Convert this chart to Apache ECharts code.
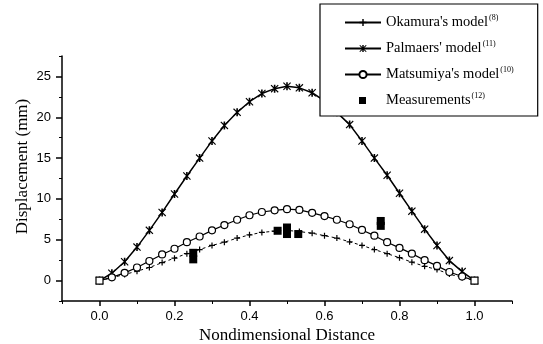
<!DOCTYPE html>
<html>
<head>
<meta charset="utf-8">
<script src="https://cdn.jsdelivr.net/npm/echarts@6/dist/echarts.min.js"></script>
<style>
  html, body { margin: 0; padding: 0; background: #fff; }
  #chart { width: 543px; height: 344px; }
</style>
</head>
<body>
<div id="chart"></div>
<script>
// nondimensional distance of model points
const xs = [0, 0.033, 0.067, 0.1, 0.133, 0.167, 0.2, 0.233, 0.267, 0.3, 0.333,
  0.367, 0.4, 0.433, 0.467, 0.5, 0.533, 0.567, 0.6, 0.633, 0.667, 0.7, 0.733,
  0.767, 0.8, 0.833, 0.867, 0.9, 0.933, 0.967, 1.0];

const okamura = [0, 0.35, 0.75, 1.15, 1.6, 2.2, 2.75, 3.3, 3.8, 4.3, 4.7, 5.2,
  5.6, 5.9, 6.05, 6.15, 6.0, 5.8, 5.5, 5.2, 4.75, 4.3, 3.8, 3.3, 2.8, 2.25,
  1.75, 1.35, 0.8, 0.35, 0];

const palmaers = [0, 0.9, 2.3, 4.1, 6.15, 8.35, 10.6, 12.8, 15.0, 17.1, 19.0,
  20.6, 21.9, 22.9, 23.5, 23.8, 23.6, 23.0, 22.0, 20.6, 19.1, 17.1, 15.0, 12.9,
  10.7, 8.5, 6.3, 4.3, 2.45, 1.1, 0];

const matsumiya = [0, 0.4, 0.95, 1.6, 2.4, 3.2, 3.9, 4.7, 5.4, 6.15, 6.8, 7.45,
  8.0, 8.4, 8.6, 8.75, 8.65, 8.3, 7.9, 7.45, 6.9, 6.2, 5.5, 4.7, 4.0, 3.3, 2.5,
  1.8, 1.05, 0.5, 0];

const measX = [0.25, 0.25, 0.475, 0.5, 0.5, 0.53, 0.75, 0.75];
const measY = [2.6, 3.4, 6.1, 5.7, 6.5, 5.7, 6.7, 7.3];

const names = ["Okamura's model", "Palmaers' model", "Matsumiya's model", 'Measurements'];
const refs = ['(8)', '(11)', '(10)', '(12)'];

const xTicks = [0, 0.2, 0.4, 0.6, 0.8, 1.0];
const xMinor = [-0.1, 0.1, 0.3, 0.5, 0.7, 0.9, 1.1];
const yTicks = [0, 5, 10, 15, 20, 25];
const yMinor = [-2.5, 2.5, 7.5, 12.5, 17.5, 22.5, 27.5];

const zip = (a, b) => a.map((v, i) => [v, b[i]]);

const serif = 'Liberation Serif';
const sans = 'Liberation Sans';

const plusPath = 'path://M4,0H6V4H10V6H6V10H4V6H0V4H4Z';
const starPath = 'path://M0,1L1,0L5,4L9,0L10,1L6,5L10,9L9,10L5,6L1,10L0,9L4,5Z M4,0H6V10H4Z';
// small square centred in a legend-sized box
const legendSquare = 'path://M0,0L0,0M36,9L36,9M14,1H21V8H14Z';

const matsData = zip(xs, matsumiya).map((p, i) =>
  (i === 0 || i === xs.length - 1) ? { value: p, symbol: 'rect' } : p);

const chart = echarts.init(document.getElementById('chart'));

const baseX = {
  type: 'value', min: -0.1, max: 1.1, position: 'bottom',
  splitLine: { show: false }
};
const baseY = {
  type: 'value', min: -2.5, max: 27.5, position: 'left',
  splitLine: { show: false }
};

chart.setOption({
  animation: false,
  backgroundColor: '#fff',
  grid: { left: 62, right: 31, top: 56, bottom: 43, outerBoundsMode: 'none', containLabel: false },
  xAxis: [
    Object.assign({}, baseX, {
      name: 'Nondimensional Distance',
      nameLocation: 'middle',
      nameGap: 26,
      nameMoveOverlap: false,
      nameTextStyle: { fontFamily: serif, fontSize: 17, color: '#000' },
      axisLine: { onZero: false, lineStyle: { color: '#000', width: 1.5 } },
      axisTick: { customValues: xTicks, length: 5, lineStyle: { color: '#000', width: 1.5 } },
      axisLabel: {
        customValues: xTicks, margin: 9, color: '#000', fontFamily: sans, fontSize: 13,
        formatter: v => v.toFixed(1)
      }
    }),
    Object.assign({}, baseX, {
      axisLine: { show: false, onZero: false },
      axisTick: { customValues: xMinor, length: 3, lineStyle: { color: '#000' } },
      axisLabel: { show: false }
    })
  ],
  yAxis: [
    Object.assign({}, baseY, {
      name: 'Displacement (mm)',
      nameLocation: 'middle',
      nameGap: 31,
      nameMoveOverlap: false,
      nameTextStyle: { fontFamily: serif, fontSize: 17, color: '#000', padding: [0, 0, 0, 24] },
      axisLine: { show: true, onZero: false, lineStyle: { color: '#000', width: 1.5 } },
      axisTick: { show: true, customValues: yTicks, length: 6, lineStyle: { color: '#000', width: 1.5 } },
      axisLabel: { customValues: yTicks, margin: 11, color: '#000', fontFamily: sans, fontSize: 13 }
    }),
    Object.assign({}, baseY, {
      axisLine: { show: false, onZero: false },
      axisTick: { show: true, customValues: yMinor, length: 3, lineStyle: { color: '#000' } },
      axisLabel: { show: false }
    })
  ],
  legend: {
    orient: 'vertical',
    left: 320, top: 4,
    padding: [10, 24, 8, 24],
    itemGap: 10,
    itemWidth: 36, itemHeight: 9,
    backgroundColor: '#fff',
    borderColor: '#000', borderWidth: 1.2,
    lineStyle: { type: 'solid' },
    data: names.map((n, i) => i === 3 ? { name: n, icon: legendSquare } : n),
    formatter: n => n + '{s|' + refs[names.indexOf(n)] + '}',
    textStyle: {
      fontFamily: serif, fontSize: 14.5, color: '#000',
      rich: { s: { fontFamily: serif, fontSize: 8, color: '#000', padding: [0, 0, 9, 1] } }
    }
  },
  series: [
    {
      name: names[0], type: 'line', data: zip(xs, okamura),
      symbol: plusPath, symbolSize: 6,
      lineStyle: { color: '#000', width: 1, type: [3, 3] },
      itemStyle: { color: '#000' }, z: 3
    },
    {
      name: names[1], type: 'line', data: zip(xs, palmaers),
      symbol: starPath, symbolSize: 8,
      lineStyle: { color: '#000', width: 1.5 },
      itemStyle: { color: '#000' }, z: 3
    },
    {
      name: names[2], type: 'line', data: matsData,
      symbol: 'circle', symbolSize: 7,
      lineStyle: { color: '#000', width: 1.2 },
      itemStyle: { color: '#fff', borderColor: '#000', borderWidth: 1.2 }, z: 4
    },
    {
      name: names[3], type: 'scatter', data: zip(measX, measY),
      symbol: 'rect', symbolSize: 8,
      itemStyle: { color: '#000', opacity: 1 }, z: 5
    }
  ]
});
</script>
</body>
</html>
